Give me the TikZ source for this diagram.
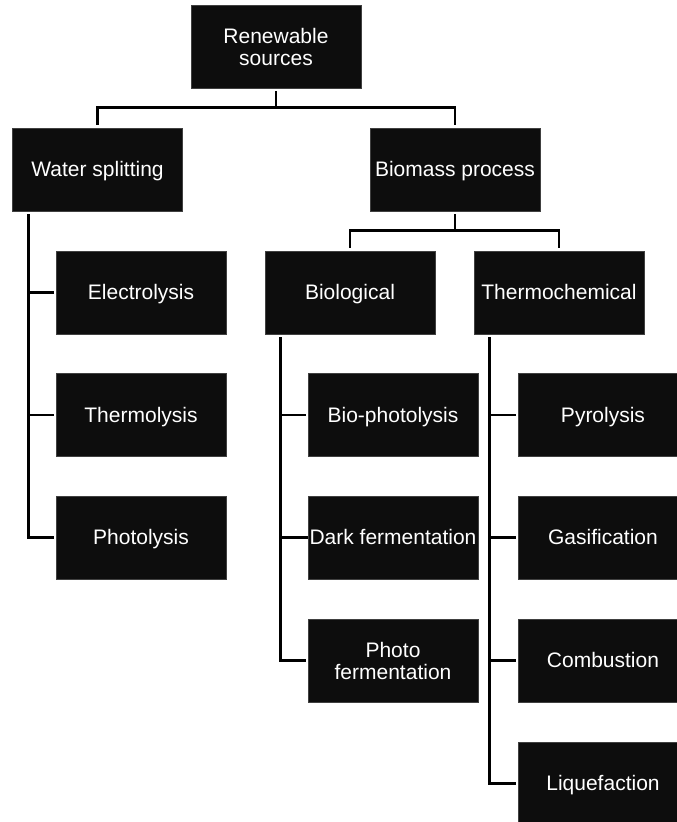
\documentclass[tikz,border=0pt]{standalone}
\usepackage{fontspec}
\setmainfont{Liberation Sans}
\definecolor{boxblack}{RGB}{13,13,13}
\begin{document}
\begin{tikzpicture}[x=0.75pt,y=-0.75pt,
  basebox/.style={fill=boxblack,draw=black!75,line width=0.4pt,text=white,
    minimum width=127.5pt,minimum height=62.25pt,inner sep=0pt,align=center,
    font=\fontsize{15.75pt}{16.5pt}\selectfont},
  box/.style={basebox,text height=12.4pt,text depth=1.4pt},
  conn/.style={line width=1.9pt,black}]
\useasboundingbox (0,0) rectangle (676,822);
% nodes
\node[basebox] (ren) at (276,46.5) {Renewable\\sources};
\node[box] (water) at (97.5,169.5) {Water splitting};
\node[box] (biomass) at (455,169.5) {Biomass process};
\node[box] (bio) at (350,292.5) {Biological};
\node[box] (thermo) at (559,292.5) {Thermochemical};
\node[box] (electro) at (141,292.5) {Electrolysis};
\node[box] (thermol) at (141,415) {Thermolysis};
\node[box] (photol) at (141,537.5) {Photolysis};
\node[box] (biophot) at (393,415) {Bio-photolysis};
\node[box] (dark) at (393,537.5) {Dark fermentation};
\node[basebox] (photof) at (393,660.5) {Photo\\fermentation};
\node[box] (pyro) at (603,415) {Pyrolysis};
\node[box] (gasif) at (603,537.5) {Gasification};
\node[box] (comb) at (603,660.5) {Combustion};
\node[box] (lique) at (603,783.5) {Liquefaction};
% top level connectors
\draw[conn] ([yshift=-2.25pt]ren.south) -- ++(0,16) -| ([yshift=2.25pt]water.north);
\draw[conn] ([yshift=-2.25pt]ren.south) -- ++(0,16) -| ([yshift=2.25pt]biomass.north);
\draw[conn] ([yshift=-2.25pt]biomass.south) -- ++(0,16) -| ([yshift=2.25pt]bio.north);
\draw[conn] ([yshift=-2.25pt]biomass.south) -- ++(0,16) -| ([yshift=2.25pt]thermo.north);
% water splitting branch
\coordinate (wsl) at ([xshift=12pt,yshift=-2.25pt]water.south west);
\draw[conn] (wsl) |- ([xshift=-1.5pt]photol.west);
\draw[conn] ([xshift=-1.5pt]electro.west) -- (electro.west -| wsl);
\draw[conn] ([xshift=-1.5pt]thermol.west) -- (thermol.west -| wsl);
% biological branch
\coordinate (bl) at ([xshift=12pt,yshift=-2.25pt]bio.south west);
\draw[conn] (bl) |- ([xshift=-1.5pt]photof.west);
\draw[conn] ([xshift=-1.5pt]biophot.west) -- (biophot.west -| bl);
\draw[conn] (dark.west) -- (dark.west -| bl);
% thermochemical branch
\coordinate (tl) at ([xshift=12pt,yshift=-2.25pt]thermo.south west);
\draw[conn] (tl) |- ([xshift=-1.5pt]lique.west);
\draw[conn] ([xshift=-1.5pt]pyro.west) -- (pyro.west -| tl);
\draw[conn] ([xshift=-1.5pt]gasif.west) -- (gasif.west -| tl);
\draw[conn] ([xshift=-1.5pt]comb.west) -- (comb.west -| tl);
\end{tikzpicture}
\end{document}
